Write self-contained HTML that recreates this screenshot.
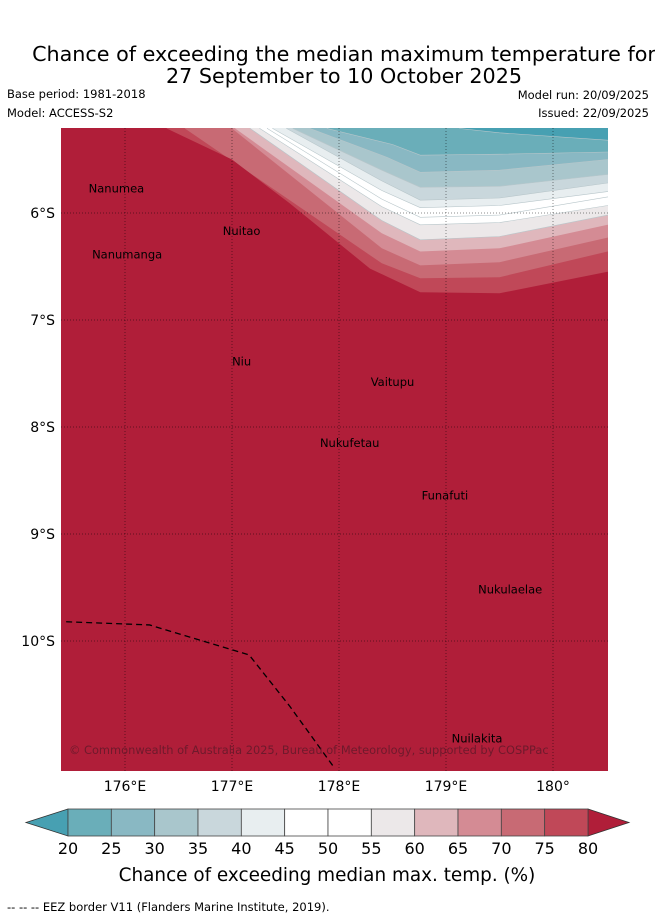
<!DOCTYPE html>
<html><head><meta charset="utf-8"><style>
body{margin:0;background:#fff;}
svg{display:block;font-family:"DejaVu Sans","Liberation Sans",sans-serif;}
</style></head><body>
<svg id="chart" width="655" height="919" viewBox="0 0 655 919">
<text x="344" y="61" text-anchor="middle" font-size="20.7">Chance of exceeding the median maximum temperature for</text>
<text x="344" y="83" text-anchor="middle" font-size="20.7">27 September to 10 October 2025</text>
<text x="7" y="98" font-size="11.5">Base period: 1981-2018</text>
<text x="7" y="117" font-size="11.5">Model: ACCESS-S2</text>
<text x="649" y="99" font-size="11.5" text-anchor="end">Model run: 20/09/2025</text>
<text x="649" y="117" font-size="11.5" text-anchor="end">Issued: 22/09/2025</text>
<defs><clipPath id="mapclip"><rect x="61" y="128" width="547" height="643"/></clipPath></defs>
<g id="map" clip-path="url(#mapclip)"></g>
<g id="cbar"></g>
<text x="327" y="881" text-anchor="middle" font-size="18.4">Chance of exceeding median max. temp. (%)</text>
<text x="7" y="911" font-size="11.5">-- -- -- EEZ border V11 (Flanders Marine Institute, 2019).</text>
</svg>
<script>
const levels=[20,25,30,35,40,45,50,55,60,65,70,75,80];
const colors=["#47a0b2","#6aaeb9","#89b8c3","#a9c6cc","#c9d7dc","#e8eef0","#ffffff","#ffffff","#ece8e9","#dfb7bc","#d48b94","#c86a74","#c04858","#b01e39"];
const boundaries=[
 [[179.13,-5.21],[179.5,-5.25],[180.51,-5.32]],
 [[177.89,-5.21],[178.5,-5.36],[178.76,-5.46],[179.5,-5.45],[180.51,-5.43]],
 [[177.73,-5.21],[178.45,-5.48],[178.76,-5.62],[179.5,-5.60],[180.51,-5.50]],
 [[177.57,-5.21],[178.4,-5.6],[178.76,-5.76],[179.5,-5.75],[180.51,-5.64]],
 [[177.51,-5.21],[178.4,-5.7],[178.76,-5.88],[179.5,-5.86],[180.51,-5.72]],
 [[177.38,-5.21],[178.4,-5.79],[178.76,-5.95],[179.5,-5.93],[180.51,-5.80]],
 [[177.33,-5.21],[178.4,-5.87],[178.76,-6.04],[179.5,-6.02],[180.51,-5.85]],
 [[177.26,-5.21],[178.4,-5.94],[178.76,-6.11],[179.5,-6.09],[180.51,-5.93]],
 [[177.17,-5.21],[178.4,-6.07],[178.76,-6.25],[179.5,-6.22],[180.51,-6.02]],
 [[177.03,-5.21],[178.4,-6.19],[178.76,-6.36],[179.5,-6.33],[180.51,-6.11]],
 [[177.0,-5.21],[178.4,-6.33],[178.76,-6.49],[179.5,-6.46],[180.51,-6.23]],
 [[176.56,-5.21],[178.4,-6.47],[178.76,-6.61],[179.5,-6.60],[180.51,-6.36]],
 [[176.39,-5.21],[177.0,-5.50],[177.54,-5.91],[178.29,-6.52],[178.76,-6.74],[179.5,-6.75],[180.51,-6.55]]
];
const lonTicks=[176,177,178,179,180];
const latTicks=[-6,-7,-8,-9,-10];
const islands=[["Nanumea",175.92,-5.77],["Nuitao",177.09,-6.17],["Nanumanga",176.02,-6.39],["Niu",177.09,-7.39],["Vaitupu",178.50,-7.58],["Nukufetau",178.10,-8.15],["Funafuti",178.99,-8.64],["Nukulaelae",179.60,-9.52],["Nuilakita",179.29,-10.91]];
const eez=[[175.45,-9.82],[176.23,-9.85],[176.46,-9.92],[177.16,-10.13],[177.54,-10.61],[177.96,-11.19]];
const LON0=176,LAT0=-6,PX=107;
function X(lon){return 125+(lon-LON0)*PX;}
function Y(lat){return 213+(LAT0-lat)*PX;}
const NS="http://www.w3.org/2000/svg";
function mk(t,a,p){const e=document.createElementNS(NS,t);for(const k in a)e.setAttribute(k,a[k]);p.appendChild(e);return e;}
const map=document.getElementById('map');
const bg=mk('rect',{x:61,y:128,width:547,height:643,fill:colors[0]},map);


const L=61,R=608,T=128,B=771;
boundaries.forEach((b,i)=>{
 let pts=b.map(p=>X(p[0]).toFixed(1)+","+Y(p[1]).toFixed(1));
 pts.push((R+5)+","+Y(b[b.length-1][1]).toFixed(1));
 pts.push((R+5)+","+(B+5));pts.push((L-5)+","+(B+5));pts.push((L-5)+","+(T-5));
 pts.unshift(X(b[0][0]).toFixed(1)+","+(T-5));
 const pg=mk('polygon',{points:pts.join(" "),fill:colors[i+1],stroke:i<9?"#b8c6ca":"none","stroke-width":0.6},map);
 
 
});
lonTicks.forEach(v=>{
 const l=mk('line',{x1:X(v),x2:X(v),y1:T,y2:B,stroke:"rgba(0,0,0,0.45)","stroke-width":1,"stroke-dasharray":"1,2"},map);
 
 
 const t=mk('text',{x:X(v),y:791,"text-anchor":"middle","font-size":14},document.getElementById('chart'));
 t.textContent=v+"°"+(v===180?"":"E");
 
 
});
latTicks.forEach(v=>{
 const l=mk('line',{x1:L,x2:R,y1:Y(v),y2:Y(v),stroke:"rgba(0,0,0,0.45)","stroke-width":1,"stroke-dasharray":"1,2"},map);
 
 
 const t=mk('text',{x:55,y:Y(v)+5,"text-anchor":"end","font-size":14},document.getElementById('chart'));
 t.textContent=(-v)+"°S";
 
 
});
const ez=mk('polyline',{points:eez.map(p=>X(p[0])+","+Y(p[1])).join(" "),fill:"none",stroke:"#000","stroke-width":1.3,"stroke-dasharray":"6,4"},map);


islands.forEach(s=>{
 const t=mk('text',{x:X(s[1]),y:Y(s[2])+4,"text-anchor":"middle","font-size":11.5,fill:"#000"},map);
 t.textContent=s[0];
 
 
});
const cr=mk('text',{x:69,y:754,"font-size":11.4,fill:"#6e1a2c"},map);
cr.textContent="© Commonwealth of Australia 2025, Bureau of Meteorology, supported by COSPPac";


const cb=document.getElementById('cbar');
const c0=68,c1=588,cy0=809,cy1=836,w=(c1-c0)/(levels.length-1);
const la=mk('polygon',{points:`${c0},${cy0} 26,822.5 ${c0},${cy1}`,fill:colors[0],stroke:"#333","stroke-width":0.8},cb);


const ra=mk('polygon',{points:`${c1},${cy0} 629,822.5 ${c1},${cy1}`,fill:colors[13],stroke:"#333","stroke-width":0.8},cb);


for(let i=0;i<levels.length-1;i++){
 const r=mk('rect',{x:c0+i*w,y:cy0,width:w,height:cy1-cy0,fill:colors[i+1],stroke:"#444","stroke-width":0.8},cb);
 
 
}
levels.forEach((v,i)=>{
 const t=mk('text',{x:c0+i*w,y:854,"text-anchor":"middle","font-size":16},cb);
 t.textContent=v;
 
 
});
</script>
</body></html>
